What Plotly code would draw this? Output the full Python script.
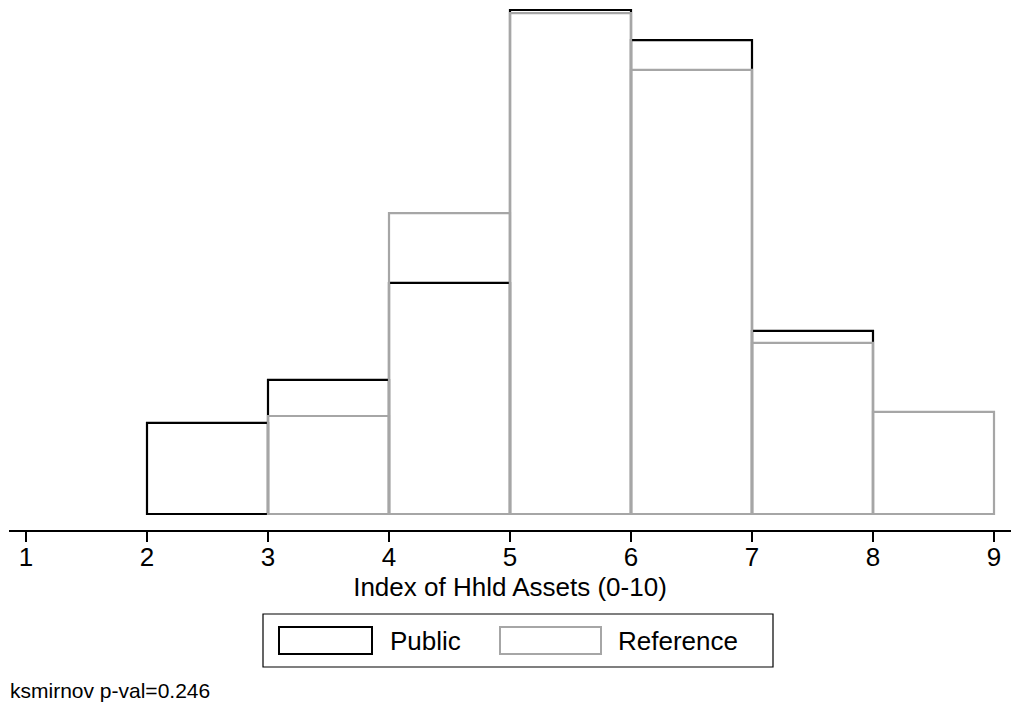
import plotly.graph_objects as go

# Bin edges (left) and density values
bin_left = [2, 3, 4, 5, 6, 7, 8]
public_density = [0.0563, 0.0829, 0.1429, 0.3117, 0.2931, 0.1132, None]
reference_density = [None, 0.0606, 0.1861, 0.3098, 0.2746, 0.1058, 0.0631]
tick_vals = [1, 2, 3, 4, 5, 6, 7, 8, 9]
x_title = "Index of Hhld Assets (0-10)"
note = "ksmirnov p-val=0.246"

W, H = 1011, 707
L, R, T, B = 9, 0, 0, 177
pw, ph = W - L - R, H - T - B

def px(x):
    return (x - L) / pw

def py(y):
    return (H - B - y) / ph

centers = [b + 0.5 for b in bin_left]
BLACK = "#000000"
GREY = "#a6a6a6"
FONT = "Liberation Sans, Arial, Helvetica, sans-serif"
FS = 26

fig = go.Figure()
fig.add_trace(go.Bar(x=centers, y=public_density, width=1, name="Public",
                     marker=dict(color="rgba(0,0,0,0)", line=dict(color=BLACK, width=2.2)),
                     showlegend=False))
fig.add_trace(go.Bar(x=centers, y=reference_density, width=1, name="Reference",
                     marker=dict(color="rgba(0,0,0,0)", line=dict(color=GREY, width=2.2)),
                     showlegend=False))

shapes = []
annotations = []
# legend box
shapes.append(dict(type="rect", xref="paper", yref="paper", x0=px(263), x1=px(773),
                   y0=py(667), y1=py(614), line=dict(color=BLACK, width=1.2)))
shapes.append(dict(type="rect", xref="paper", yref="paper", x0=px(279), x1=px(372),
                   y0=py(654), y1=py(627), line=dict(color=BLACK, width=2)))
shapes.append(dict(type="rect", xref="paper", yref="paper", x0=px(500), x1=px(601),
                   y0=py(654), y1=py(627), line=dict(color=GREY, width=2)))
annotations.append(dict(xref="paper", yref="paper", x=px(388), y=py(641), text="Public",
                        showarrow=False, xanchor="left", yanchor="middle",
                        font=dict(size=FS, color=BLACK, family=FONT)))
annotations.append(dict(xref="paper", yref="paper", x=px(616), y=py(641), text="Reference",
                        showarrow=False, xanchor="left", yanchor="middle",
                        font=dict(size=FS, color=BLACK, family=FONT)))
annotations.append(dict(xref="paper", yref="paper", x=px(8), y=py(690), text=note,
                        showarrow=False, xanchor="left", yanchor="middle",
                        font=dict(size=21, color=BLACK, family=FONT)))

fig.update_layout(
    width=W, height=H,
    margin=dict(l=L, r=R, t=T, b=B),
    paper_bgcolor="white", plot_bgcolor="white",
    barmode="overlay",
    font=dict(family=FONT, color=BLACK),
    shapes=shapes, annotations=annotations,
    xaxis=dict(range=[1 - 17 / 121, 9 + 17 / 121], tickvals=tick_vals,
               ticks="outside", ticklen=10, tickwidth=1.5, tickcolor=BLACK,
               ticklabelstandoff=-7,
               showline=True, linecolor=BLACK, linewidth=2, showgrid=False, zeroline=False,
               tickfont=dict(size=FS, family=FONT, color=BLACK),
               title=dict(text=x_title, font=dict(size=FS, family=FONT, color=BLACK), standoff=2)),
    yaxis=dict(range=[-16 / 1617, 514 / 1617], visible=False, showgrid=False, zeroline=False),
)

fig.write_html("out.html")
